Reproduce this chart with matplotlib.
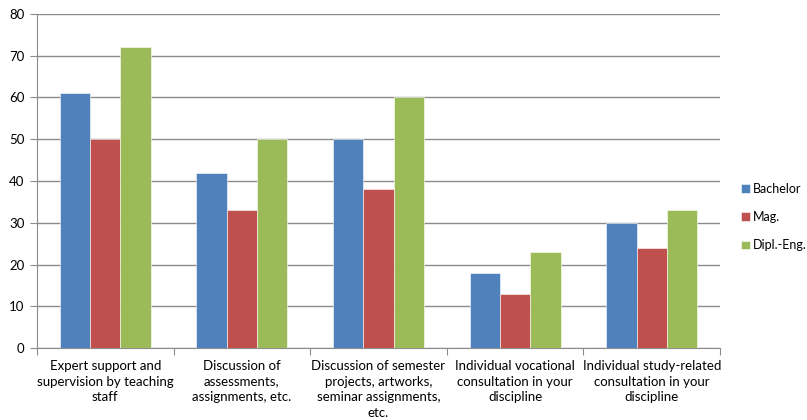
import matplotlib.pyplot as plt
import numpy as np

categories = [
    "Expert support and\nsupervision by teaching\nstaff",
    "Discussion of\nassessments,\nassignments, etc.",
    "Discussion of semester\nprojects, artworks,\nseminar assignments,\netc.",
    "Individual vocational\nconsultation in your\ndiscipline",
    "Individual study-related\nconsultation in your\ndiscipline",
]
bachelor = [61, 42, 50, 18, 30]
mag = [50, 33, 38, 13, 24]
dipl = [72, 50, 60, 23, 33]

series = [("Bachelor", bachelor, "#4F81BD"),
          ("Mag.", mag, "#C0504D"),
          ("Dipl.-Eng.", dipl, "#9BBB59")]

plt.rcParams["font.family"] = ["Lato", "DejaVu Sans"]

fig = plt.figure(figsize=(8.07, 4.2), dpi=100)
ax = fig.add_axes([0.0458, 0.1714, 0.8464, 0.7953])

x = np.arange(len(categories))
w = 1 / 4.5
for i, (name, vals, col) in enumerate(series):
    ax.bar(x + (i - 1) * w, vals, width=w, color=col, label=name,
           edgecolor="white", linewidth=0.4, zorder=3)

ax.set_xlim(-0.5, len(categories) - 0.5)
ax.set_ylim(0, 80)
ax.set_yticks(range(0, 81, 10))
ax.yaxis.grid(True, color="#8C8C8C", linewidth=1, zorder=0)

ax.set_xticks(np.arange(-0.5, len(categories), 1))
ax.set_xticklabels([])
ax.set_xticks(x, minor=True)
ax.set_xticklabels(categories, minor=True, fontsize=9.5, linespacing=1.38)
ax.tick_params(axis="x", which="major", length=5, color="#8C8C8C")
ax.tick_params(axis="x", which="minor", length=0, pad=8.5)
ax.tick_params(axis="y", length=5, color="#8C8C8C", labelsize=9.5, pad=4)

for s in ["top", "right"]:
    ax.spines[s].set_visible(False)
for s in ["left", "bottom"]:
    ax.spines[s].set_color("#8C8C8C")

fig.legend(loc="center left", bbox_to_anchor=(0.918, 0.483), frameon=False,
           fontsize=9, handlelength=0.7, handleheight=0.7, handletextpad=0.3,
           labelspacing=1.3, borderpad=0, borderaxespad=0)

fig.savefig("out.png", dpi=100)
